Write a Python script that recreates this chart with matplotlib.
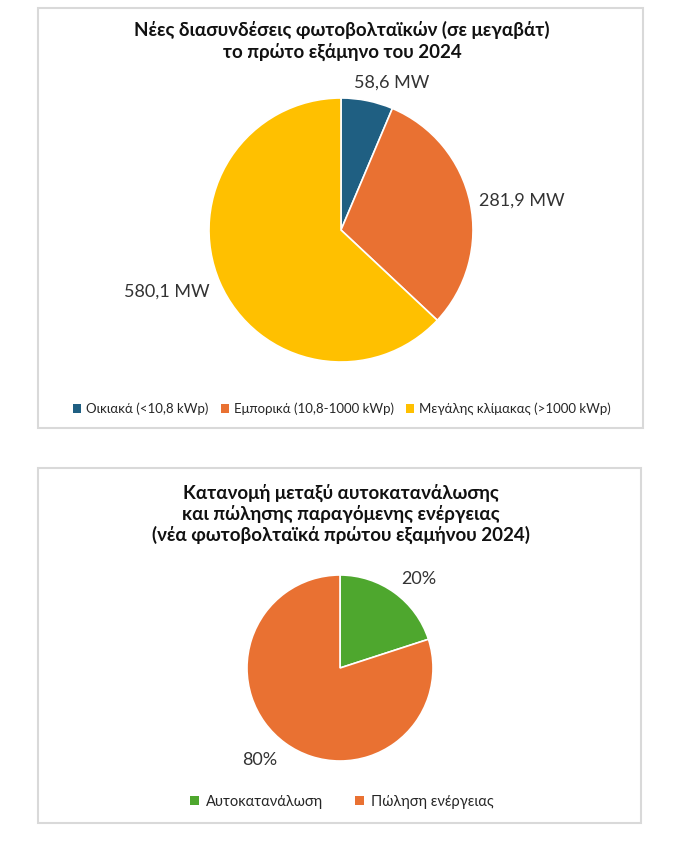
import matplotlib
matplotlib.use("Agg")
import matplotlib.pyplot as plt
from matplotlib.patches import Rectangle, Patch
import numpy as np

plt.rcParams['font.family'] = ['Lato', 'DejaVu Sans']

# ---------------- data ----------------
title1 = "Νέες διασυνδέσεις φωτοβολταϊκών (σε μεγαβάτ)\nτο πρώτο εξάμηνο του 2024"
cats1 = ["Οικιακά (<10,8 kWp)", "Εμπορικά (10,8-1000 kWp)", "Μεγάλης κλίμακας (>1000 kWp)"]
vals1 = [58.6, 281.9, 580.1]
labels1 = ["58,6 MW", "281,9 MW", "580,1 MW"]

title2 = "Κατανομή μεταξύ αυτοκατανάλωσης\nκαι πώλησης παραγόμενης ενέργειας\n(νέα φωτοβολταϊκά πρώτου εξαμήνου 2024)"
cats2 = ["Αυτοκατανάλωση", "Πώληση ενέργειας"]
vals2 = [20, 80]
labels2 = ["20%", "80%"]

# ---------------- style ----------------
colors1 = ["#1F5F82", "#E97132", "#FFC000"]
colors2 = ["#4EA72E", "#E97132"]
# label placement: (radial distance, angular offset from wedge middle in degrees)
place1 = [(1.18, -7.6), (1.39, -2.6), (1.40, -4.1)]
place2 = [(1.28, -5.6), (1.31, -5.0)]

W, H = 693, 860
fig = plt.figure(figsize=(W / 100, H / 100), dpi=100)
fig.patch.set_facecolor("white")


def fx(x):
    return x / W


def fy(y):
    return 1 - y / H


# panel frames
for (x0, y0, x1, y1) in [(38, 8, 643, 428), (38, 468, 641, 823)]:
    fig.patches.append(Rectangle((fx(x0), fy(y1)), fx(x1 - x0), (y1 - y0) / H,
                                 transform=fig.transFigure, fill=False,
                                 edgecolor="#D9D9D9", linewidth=1.5, zorder=0))


def pie_axes(cx, cy, r):
    half = 2 * r
    ax = fig.add_axes([fx(cx - half), fy(cy + half), 2 * half / W, 2 * half / H])
    return ax


def draw_pie(ax, vals, colors, labels, places, fs):
    wedges, _ = ax.pie(vals, colors=colors, startangle=90, counterclock=False,
                       radius=1, wedgeprops=dict(edgecolor="white", linewidth=1.2))
    ax.set_aspect("auto")
    ax.set_xlim(-2, 2)
    ax.set_ylim(-2, 2)
    ax.axis("off")
    for w, lab, (d, off) in zip(wedges, labels, places):
        ang = np.deg2rad((w.theta1 + w.theta2) / 2 + off)
        ax.text(d * np.cos(ang), d * np.sin(ang), lab, ha="center", va="center",
                fontsize=fs, color="#333333")
    return wedges


ax1 = pie_axes(341, 230, 132)
draw_pie(ax1, vals1, colors1, labels1, place1, 13)
ax2 = pie_axes(340, 668, 93)
draw_pie(ax2, vals2, colors2, labels2, place2, 13)

fig.text(fx(342), fy(41), title1, ha="center", va="center", fontsize=13.5,
         fontweight="bold", color="#111111", linespacing=1.2)
fig.text(fx(341), fy(514), title2, ha="center", va="center", fontsize=13.5,
         fontweight="bold", color="#111111", linespacing=1.2)

h1 = [Patch(facecolor=c, edgecolor="none") for c in colors1]
fig.legend(h1, cats1, loc="center", bbox_to_anchor=(fx(342), fy(409)), ncol=3,
           frameon=False, fontsize=9.5, handlelength=0.6, handleheight=0.6,
           handletextpad=0.4, columnspacing=0.9, labelcolor="#262626")
h2 = [Patch(facecolor=c, edgecolor="none") for c in colors2]
fig.legend(h2, cats2, loc="center", bbox_to_anchor=(fx(342), fy(802)), ncol=2,
           frameon=False, fontsize=10.5, handlelength=0.6, handleheight=0.6,
           handletextpad=0.5, columnspacing=2.2, labelcolor="#262626")

fig.savefig("out.png", dpi=100, facecolor="white")
